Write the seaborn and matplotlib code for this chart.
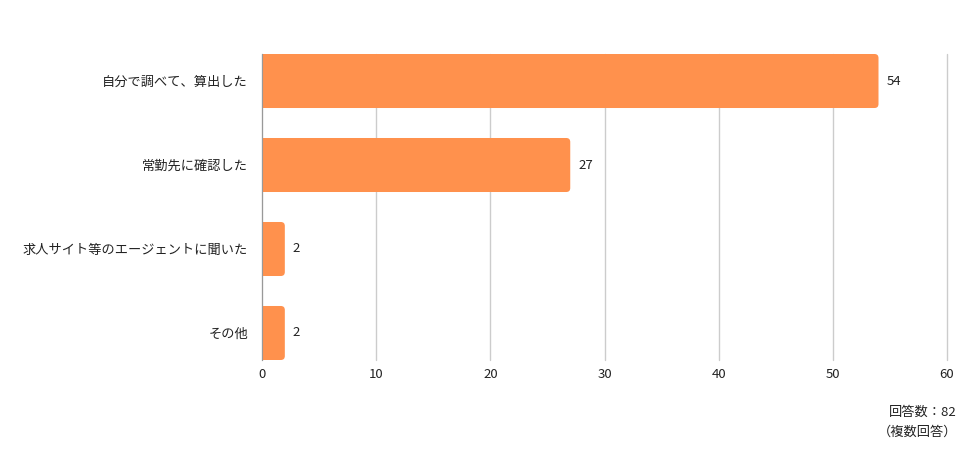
import pandas as pd
import matplotlib.pyplot as plt
import seaborn as sns
from matplotlib.patches import FancyBboxPatch

# データ
categories = ['自分で調べて、算出した', '常勤先に確認した', '求人サイト等のエージェントに聞いた', 'その他']
counts = [54, 27, 2, 2]
xticks = [0, 10, 20, 30, 40, 50, 60]

df = pd.DataFrame({'category': categories, 'count': counts})

sns.set_style('white')
plt.rcParams['font.family'] = ['Noto Sans CJK JP', 'DejaVu Sans']

fig = plt.figure(figsize=(9.76, 4.59), dpi=100)
ax = fig.add_axes([262 / 976, 1 - 360 / 459, 685 / 976, 306 / 459])

bar_color = '#FF914D'
bar_h = 0.643
sns.barplot(data=df, x='count', y='category', color=bar_color, width=bar_h,
            saturation=1, ax=ax, zorder=2)

ax.set_xlim(0, 60)
ax.set_ylim(3 + bar_h / 2, -bar_h / 2)

# 右端を丸くする
px_x = 60 / 685
px_y = (3 + bar_h) / 306
r_px = 4
for p in list(ax.patches):
    x0, y0 = p.get_x(), p.get_y()
    w, h = p.get_width(), p.get_height()
    fb = FancyBboxPatch((x0, y0), w, h,
                        boxstyle=f'round,pad=0,rounding_size={r_px * px_x}',
                        mutation_aspect=px_y / px_x,
                        facecolor=bar_color, edgecolor='none', zorder=2)
    ax.add_patch(fb)
    p.set_width(w - r_px * px_x * 1.2)
    p.set_edgecolor('none')
    ax.text(x0 + w + 8 * px_x, y0 + h / 2, str(int(w)), va='center', ha='left',
            fontsize=9.5, color='#222222')

ax.set_xticks(xticks)
ax.xaxis.grid(True, color='#cccccc', linewidth=1, zorder=0)
for gl in ax.get_xgridlines():
    gl.set_clip_on(False)
ax.set_axisbelow(True)
for s in ['top', 'right', 'bottom']:
    ax.spines[s].set_visible(False)
ax.spines['left'].set_color('#999999')
ax.spines['left'].set_zorder(3)
ax.tick_params(axis='both', length=0, labelsize=9.5, colors='#222222')
ax.tick_params(axis='y', pad=10)
ax.tick_params(axis='x', pad=6)
ax.set_xlabel('')
ax.set_ylabel('')

fig.text(957 / 976, 1 - 412 / 459, '回答数：82', ha='right', va='center',
         fontsize=9.5, color='#222222')
fig.text(957 / 976, 1 - 432 / 459, '（複数回答）', ha='right', va='center',
         fontsize=9.5, color='#222222')

fig.savefig('out.png', dpi=100)
